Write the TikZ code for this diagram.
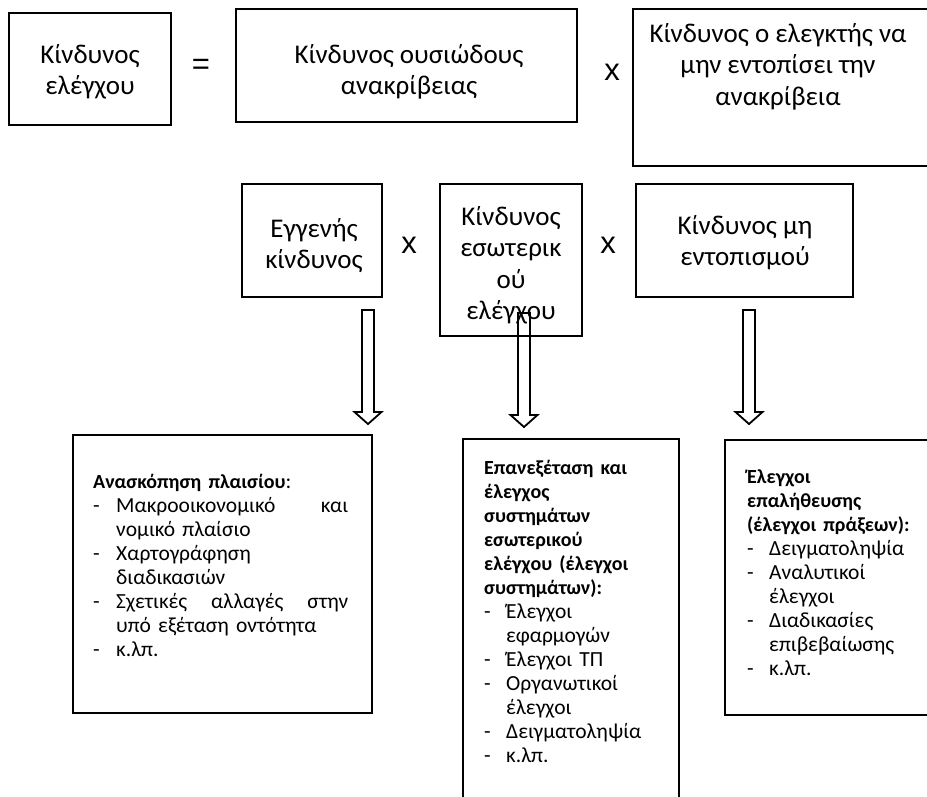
\documentclass[tikz,border=0pt]{standalone}
\usepackage{fontspec}
\setmainfont{Carlito}
\newfontfamily\signfont{Liberation Sans}
\usetikzlibrary{calc}
% fixed height of the first line of a text block
\newcommand\headline{\rule{0pt}{22pt}}
\newcommand\listline{\rule{0pt}{17pt}}
% bold heading inside a procedure box
\newcommand\headbf[1]{{\fontsize{20}{24}\selectfont\bfseries #1}}
% list entry with a dash in front
\newcommand\entry[2]{\makebox[#1][l]{-}#2}
% hollow block arrow from #1 (top of shaft) to #2 (tip)
\newcommand\blockarrow[2]{%
  \draw[hollow] ($(#1)+(-6,0)$) -- ($(#2)+(-6,-12)$) -- ($(#2)+(-13.5,-12)$)
    -- (#2) -- ($(#2)+(13.5,-12)$) -- ($(#2)+(6,-12)$) -- ($(#1)+(6,0)$) -- cycle;}
\begin{document}
\begin{tikzpicture}[x=1pt,y=-1pt,
  box/.style={draw, line width=2pt, inner sep=0pt, rectangle},
  headtext/.style={inner sep=0pt, anchor=north, align=center,
    font=\fontsize{27}{31.5}\selectfont},
  listtext/.style={inner sep=0pt, anchor=north west, align=left, text width=#1,
    font=\fontsize{21.5}{24}\selectfont},
  sign/.style={inner sep=0pt, font=\signfont\fontsize{31}{33}\selectfont},
  hollow/.style={draw, line width=1.8pt, line join=miter}]
\useasboundingbox (0,0) rectangle (927,796);
\begin{scope}
\clip (0,0) rectangle (927,796);

% top row: audit risk = RMM x DR
\node[box, minimum width=162pt, minimum height=112pt] (b1) at (90,69) {};
\node[headtext] (t1) at (90,41) {\headline Κίνδυνος\\ελέγχου};
\node[sign] (eq) at (201,67) {=};
\node[box, minimum width=341pt, minimum height=113pt] (b2) at (406.5,65.5) {};
\node[headtext] (t2) at (409,41) {\headline Κίνδυνος ουσιώδους\\ανακρίβειας};
\node[sign] (x1) at (612,72) {x};
\node[box, minimum width=298pt, minimum height=157pt] (b3) at (782,87.5) {};
\node[headtext] (t3) at (778,20) {\headline Κίνδυνος ο ελεγκτής να\\μην εντοπίσει την\\ανακρίβεια};

% middle row: IR x CR x DR
\node[box, minimum width=140pt, minimum height=113pt] (m1) at (312,240.5) {};
\node[headtext] (u1) at (314,215) {\headline Εγγενής\\κίνδυνος};
\node[sign] (x2) at (409,245) {x};
\node[box, minimum width=142pt, minimum height=152pt] (m2) at (511,260) {};
\node[headtext] (u2) at (511,203) {\headline Κίνδυνος\\εσωτερικ\\ού\\ελέγχου};
\node[sign] (x3) at (608,245) {x};
\node[box, minimum width=217pt, minimum height=113pt] (m3) at (744.5,240.5) {};
\node[headtext] (u3) at (745,212) {\headline Κίνδυνος μη\\εντοπισμού};

% hollow arrows down to the procedures
\coordinate (a1s) at (368,310); \coordinate (a1e) at (368,424);
\coordinate (a2s) at (524,313); \coordinate (a2e) at (524,427);
\coordinate (a3s) at (749,310); \coordinate (a3e) at (749,424);
\blockarrow{a1s}{a1e}
\blockarrow{a2s}{a2e}
\blockarrow{a3s}{a3e}

% bottom row: procedures
\node[box, minimum width=299pt, minimum height=278pt] (pa) at (222.5,574) {};
\node[listtext=260pt] (la) at (93,471) {\listline\headbf{Ανασκόπηση πλαισίου}:\\
  \entry{23pt}{\makebox[232pt][l]{Μακροοικονομικό\hfill και}}\\
  \hspace*{23pt}νομικό πλαίσιο\\
  \entry{23pt}{Χαρτογράφηση}\\
  \hspace*{23pt}διαδικασιών\\
  \entry{23pt}{\makebox[232pt][l]{Σχετικές\hfill αλλαγές\hfill στην}}\\
  \hspace*{23pt}υπό εξέταση οντότητα\\
  \entry{23pt}{κ.λπ.}};

\node[box, minimum width=216pt, minimum height=361pt] (pb) at (571,619.5) {};
\node[listtext=200pt] (lb) at (484,457) {\listline\headbf{Επανεξέταση και}\\
  \headbf{έλεγχος}\\
  \headbf{συστημάτων}\\
  \headbf{εσωτερικού}\\
  \headbf{ελέγχου (έλεγχοι}\\
  \headbf{συστημάτων):}\\
  \entry{22pt}{Έλεγχοι}\\
  \hspace*{22pt}εφαρμογών\\
  \entry{22pt}{Έλεγχοι ΤΠ}\\
  \entry{22pt}{Οργανωτικοί}\\
  \hspace*{22pt}έλεγχοι\\
  \entry{22pt}{Δειγματοληψία}\\
  \entry{22pt}{κ.λπ.}};

\node[box, minimum width=206pt, minimum height=275pt] (pc) at (828,577.5) {};
\node[listtext=200pt] (lc) at (747,466) {\listline\headbf{Έλεγχοι}\\
  \headbf{επαλήθευσης}\\
  \headbf{(έλεγχοι πράξεων):}\\
  \entry{22pt}{Δειγματοληψία}\\
  \entry{22pt}{Αναλυτικοί}\\
  \hspace*{22pt}έλεγχοι\\
  \entry{22pt}{Διαδικασίες}\\
  \hspace*{22pt}επιβεβαίωσης\\
  \entry{22pt}{κ.λπ.}};
\end{scope}
\end{tikzpicture}
\end{document}
